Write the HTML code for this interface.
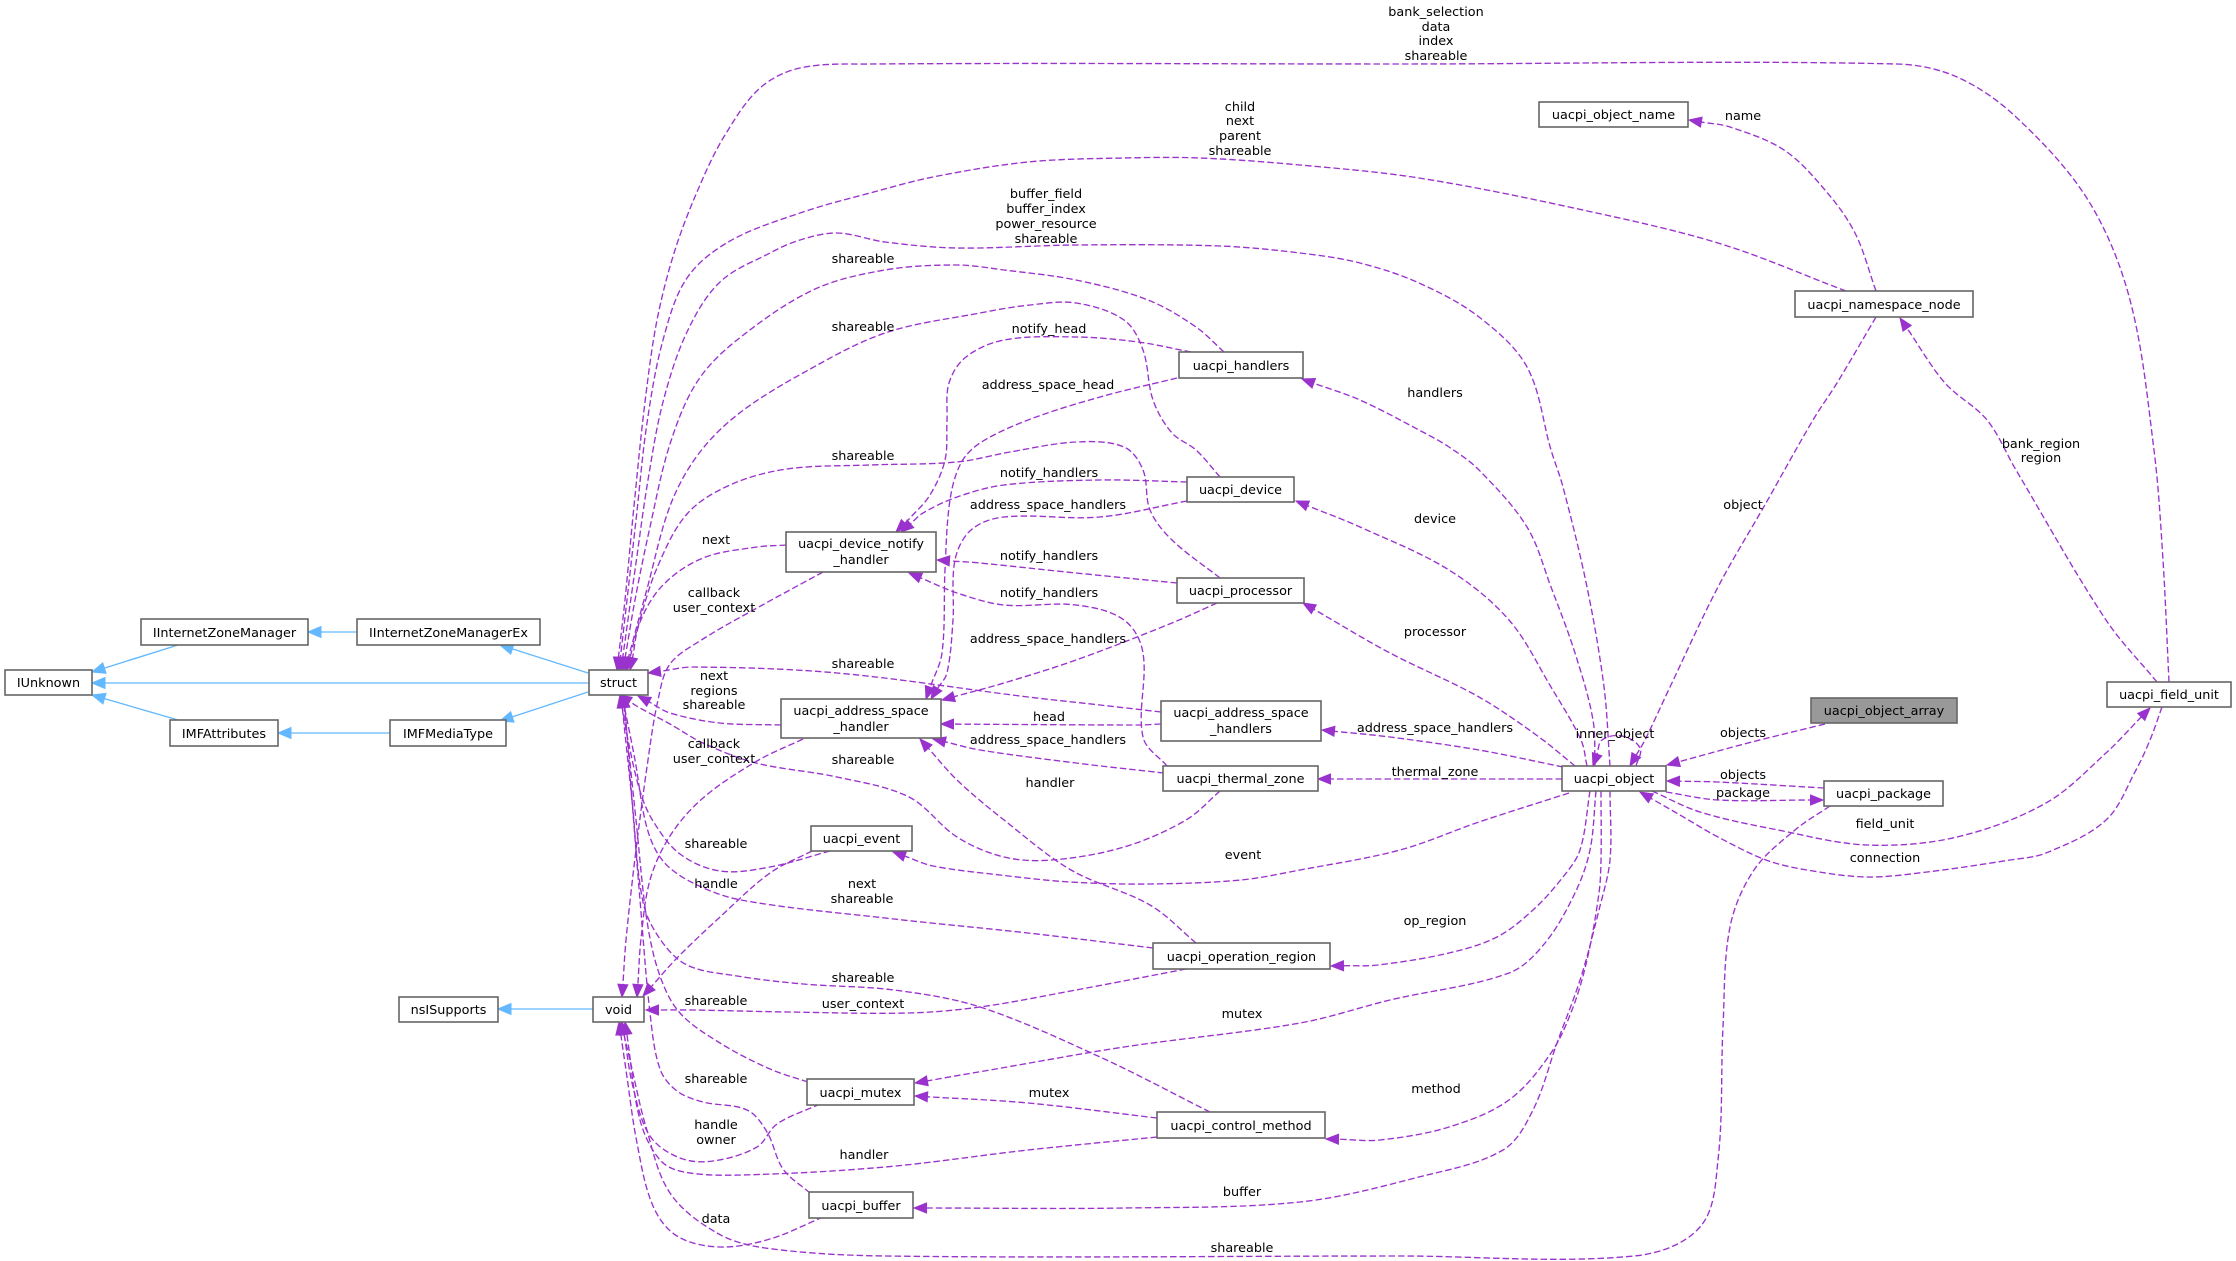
<!DOCTYPE html>
<html><head><meta charset="utf-8"><style>
html,body{margin:0;padding:0;background:#fff;}
svg{display:block;}
text{font-family:"DejaVu Sans","Liberation Sans",sans-serif;font-size:12.8px;fill:#000;}
.n rect{fill:#fff;stroke:#666;stroke-width:1.6;}
.n text{text-anchor:middle;}
.l text{text-anchor:middle;}
</style></head><body>
<svg id="g" width="2236" height="1261" viewBox="0 0 2236 1261" xmlns="http://www.w3.org/2000/svg">
<rect width="2236" height="1261" fill="#fff"/>
<g id="edges"></g>
<g class="n">
<rect x="5" y="670" width="87" height="25"/><text x="48.5" y="687">IUnknown</text>
<rect x="141" y="619" width="167" height="26"/><text x="224.5" y="637">IInternetZoneManager</text>
<rect x="357" y="619" width="183" height="26"/><text x="448.5" y="637">IInternetZoneManagerEx</text>
<rect x="170" y="720" width="108" height="26"/><text x="224" y="738">IMFAttributes</text>
<rect x="390" y="720" width="116" height="26"/><text x="448" y="738">IMFMediaType</text>
<rect x="589" y="670" width="59" height="25"/><text x="618.5" y="687">struct</text>
<rect x="593" y="997" width="51" height="25"/><text x="618.5" y="1014">void</text>
<rect x="399" y="997" width="99" height="25"/><text x="448.5" y="1014">nsISupports</text>
<rect x="786" y="532" width="150" height="40"/><text x="861" y="548">uacpi_device_notify</text><text x="861" y="564">_handler</text>
<rect x="781" y="699" width="160" height="39"/><text x="861" y="715">uacpi_address_space</text><text x="861" y="731">_handler</text>
<rect x="811" y="826" width="101" height="25"/><text x="861.5" y="843">uacpi_event</text>
<rect x="807" y="1079" width="107" height="26"/><text x="860.5" y="1097">uacpi_mutex</text>
<rect x="809" y="1192" width="104" height="26"/><text x="861" y="1210">uacpi_buffer</text>
<rect x="1179" y="352" width="124" height="26"/><text x="1241" y="370">uacpi_handlers</text>
<rect x="1187" y="477" width="107" height="25"/><text x="1240.5" y="494">uacpi_device</text>
<rect x="1177" y="578" width="127" height="25"/><text x="1240.5" y="595">uacpi_processor</text>
<rect x="1161" y="701" width="160" height="40"/><text x="1241" y="717">uacpi_address_space</text><text x="1241" y="733">_handlers</text>
<rect x="1163" y="766" width="155" height="25"/><text x="1240.5" y="783">uacpi_thermal_zone</text>
<rect x="1153" y="943" width="177" height="26"/><text x="1241.5" y="961">uacpi_operation_region</text>
<rect x="1157" y="1112" width="168" height="26"/><text x="1241" y="1130">uacpi_control_method</text>
<rect x="1562" y="766" width="104" height="25"/><text x="1614" y="783">uacpi_object</text>
<rect x="1811" y="698" width="146" height="25" style="fill:#999"/><text x="1884" y="715">uacpi_object_array</text>
<rect x="1824" y="781" width="119" height="25"/><text x="1883.5" y="798">uacpi_package</text>
<rect x="1795" y="291" width="178" height="26"/><text x="1884" y="309">uacpi_namespace_node</text>
<rect x="1539" y="102" width="149" height="25"/><text x="1613.5" y="119">uacpi_object_name</text>
<rect x="2107" y="682" width="124" height="25"/><text x="2169" y="699">uacpi_field_unit</text>
</g>
<g class="l">
<text x="1436" y="16">bank_selection</text><text x="1436" y="31">data</text><text x="1436" y="45">index</text><text x="1436" y="60">shareable</text>
<text x="1240" y="111">child</text><text x="1240" y="125">next</text><text x="1240" y="140">parent</text><text x="1240" y="155">shareable</text>
<text x="1046" y="198">buffer_field</text><text x="1046" y="213">buffer_index</text><text x="1046" y="228">power_resource</text><text x="1046" y="243">shareable</text>
<text x="863" y="263">shareable</text>
<text x="863" y="331">shareable</text>
<text x="1049" y="333">notify_head</text>
<text x="1048" y="389">address_space_head</text>
<text x="1435" y="397">handlers</text>
<text x="1743" y="120">name</text>
<text x="1049" y="477">notify_handlers</text>
<text x="863" y="460">shareable</text>
<text x="1048" y="509">address_space_handlers</text>
<text x="1743" y="509">object</text>
<text x="1435" y="523">device</text>
<text x="716" y="544">next</text>
<text x="1049" y="560">notify_handlers</text>
<text x="714" y="597">callback</text><text x="714" y="612">user_context</text>
<text x="1049" y="597">notify_handlers</text>
<text x="1435" y="636">processor</text>
<text x="1048" y="643">address_space_handlers</text>
<text x="863" y="668">shareable</text>
<text x="714" y="680">next</text><text x="714" y="695">regions</text><text x="714" y="709">shareable</text>
<text x="1049" y="721">head</text>
<text x="1435" y="732">address_space_handlers</text>
<text x="1615" y="738">inner_object</text>
<text x="1743" y="737">objects</text>
<text x="1048" y="744">address_space_handlers</text>
<text x="714" y="748">callback</text><text x="714" y="763">user_context</text>
<text x="863" y="764">shareable</text>
<text x="1435" y="776">thermal_zone</text>
<text x="1743" y="779">objects</text>
<text x="1050" y="787">handler</text>
<text x="1743" y="797">package</text>
<text x="1885" y="828">field_unit</text>
<text x="716" y="848">shareable</text>
<text x="1243" y="859">event</text>
<text x="1885" y="862">connection</text>
<text x="716" y="888">handle</text>
<text x="862" y="888">next</text><text x="862" y="903">shareable</text>
<text x="1435" y="925">op_region</text>
<text x="863" y="982">shareable</text>
<text x="716" y="1005">shareable</text>
<text x="863" y="1008">user_context</text>
<text x="1242" y="1018">mutex</text>
<text x="716" y="1083">shareable</text>
<text x="1049" y="1097">mutex</text>
<text x="1436" y="1093">method</text>
<text x="716" y="1129">handle</text><text x="716" y="1144">owner</text>
<text x="864" y="1159">handler</text>
<text x="1242" y="1196">buffer</text>
<text x="716" y="1223">data</text>
<text x="1242" y="1252">shareable</text>
<text x="2041" y="448">bank_region</text><text x="2041" y="462">region</text>
</g>
</svg>
<script>
(function(){
var NS="http://www.w3.org/2000/svg";
var G=document.getElementById("edges");
function dist(a,b){var x=b[0]-a[0],y=b[1]-a[1];return Math.sqrt(x*x+y*y);}
function smooth(p){
  var d="M"+p[0][0].toFixed(1)+","+p[0][1].toFixed(1);
  for(var i=0;i<p.length-1;i++){
    var p0=p[i-1]||p[i],p1=p[i],p2=p[i+1],p3=p[i+2]||p2;
    var seg=dist(p1,p2)/3;
    var t1x=p2[0]-p0[0],t1y=p2[1]-p0[1],n1=Math.sqrt(t1x*t1x+t1y*t1y)||1;
    var t2x=p3[0]-p1[0],t2y=p3[1]-p1[1],n2=Math.sqrt(t2x*t2x+t2y*t2y)||1;
    var c1x=p1[0]+t1x/n1*seg,c1y=p1[1]+t1y/n1*seg;
    var c2x=p2[0]-t2x/n2*seg,c2y=p2[1]-t2y/n2*seg;
    d+="C"+c1x.toFixed(1)+","+c1y.toFixed(1)+" "+c2x.toFixed(1)+","+c2y.toFixed(1)+" "+p2[0].toFixed(1)+","+p2[1].toFixed(1);
  }
  return d;
}
function edge(pts,blue){
  var col=blue?"#63b8ff":"#9a32cd";
  var n=pts.length,tip=pts[n-1],prev=pts[n-2];
  var dx=tip[0]-prev[0],dy=tip[1]-prev[1],L=Math.sqrt(dx*dx+dy*dy);dx/=L;dy/=L;
  var al=blue?13:12.5,aw=blue?5.5:5;
  var base=[tip[0]-dx*al,tip[1]-dy*al];
  var p=pts.slice(0,n-1).concat([base]);
  var path=document.createElementNS(NS,"path");
  path.setAttribute("d",smooth(p));
  path.setAttribute("fill","none");
  path.setAttribute("stroke",col);
  path.setAttribute("stroke-width","1.35");
  if(!blue)path.setAttribute("stroke-dasharray","6.5,3");
  G.appendChild(path);
  var px=-dy,py=dx;
  var poly=document.createElementNS(NS,"polygon");
  poly.setAttribute("points",tip[0]+","+tip[1]+" "+(base[0]+px*aw)+","+(base[1]+py*aw)+" "+(base[0]-px*aw)+","+(base[1]-py*aw));
  poly.setAttribute("fill",col);poly.setAttribute("stroke",col);poly.setAttribute("stroke-width","1");
  G.appendChild(poly);
}
var B=[
 [[589,683],[92,683]],
 [[588,673],[500,645]],
 [[588,692],[500,721]],
 [[357,632],[308,632]],
 [[178,645],[92,672]],
 [[390,733],[278,733]],
 [[178,720],[92,695]],
 [[593,1009],[498,1009]]
];
B.forEach(function(e){edge(e,true);});
var E=[
 [[2169,682],[2163,560],[2154,450],[2130,300],[2088,200],[2016,117],[1957,77],[1897,64],[1400,64],[870,64],[800,68],[760,88],[725,135],[700,185],[675,250],[657,320],[645,402],[634,506],[625,600],[617,670]],
 [[1846,291],[1718,243],[1569,207],[1419,178],[1300,165],[1200,158],[1124,158],[1028,162],[933,177],[870,193],[803,212],[730,241],[687,278],[663,340],[647,423],[636,520],[627,600],[619,670]],
 [[1610,766],[1604,687],[1587,587],[1563,487],[1551,450],[1527,367],[1479,317],[1419,283],[1360,263],[1300,253],[1220,246],[1076,245],[957,248],[885,242],[837,233],[800,240],[770,253],[720,282],[687,332],[663,402],[648,480],[635,570],[621,670]],
 [[1224,352],[1196,327],[1148,300],[1076,280],[1004,270],[957,265],[885,270],[813,290],[737,340],[697,382],[670,444],[650,527],[635,600],[623,670]],
 [[1220,477],[1196,450],[1172,433],[1153,400],[1143,350],[1124,320],[1076,303],[1030,305],[980,313],[885,333],[803,373],[737,415],[697,456],[670,506],[647,589],[625,670]],
 [[1220,578],[1172,540],[1150,510],[1143,470],[1124,447],[1076,442],[1010,452],[957,462],[870,465],[787,469],[730,485],[687,514],[657,568],[637,630],[627,670]],
 [[786,545],[757,547],[703,558],[663,585],[640,622],[630,670]],
 [[823,572],[757,608],[703,639],[670,664],[658,700],[648,760],[636,850],[626,940],[622,997]],
 [[781,725],[720,723],[670,713],[638,696]],
 [[803,739],[757,761],[703,798],[670,836],[650,880],[641,939],[637,997]],
 [[1161,712],[1100,705],[1028,697],[837,673],[693,667],[648,673]],
 [[1220,791],[1186,820],[1124,847],[1052,860],[1004,857],[957,837],[909,797],[837,777],[756,763],[703,743],[670,724],[640,708],[619,695]],
 [[830,851],[770,867],[720,871],[680,854],[653,821],[640,791],[628,740],[620,695]],
 [[812,851],[770,873],[720,917],[677,958],[643,996]],
 [[1153,948],[1028,933],[885,918],[741,900],[693,883],[663,861],[647,828],[635,760],[622,695]],
 [[1210,1112],[1100,1057],[980,1007],[894,990],[803,984],[737,976],[687,965],[660,939],[643,902],[632,800],[621,695]],
 [[808,1082],[770,1069],[720,1043],[680,1013],[660,976],[647,921],[636,820],[623,695]],
 [[810,1193],[783,1169],[767,1132],[747,1110],[703,1102],[677,1091],[660,1069],[650,1013],[640,900],[632,800],[624,695]],
 [[820,1104],[777,1124],[757,1147],[713,1161],[680,1158],[650,1136],[633,1087],[622,1022]],
 [[1157,1137],[1028,1150],[885,1167],[741,1175],[684,1172],[660,1160],[640,1120],[625,1022]],
 [[823,1217],[770,1239],[720,1247],[677,1236],[653,1206],[637,1143],[626,1070],[619,1022]],
 [[1830,806],[1795,830],[1754,870],[1730,927],[1723,1027],[1718,1160],[1700,1227],[1634,1256],[1400,1256],[885,1256],[765,1248],[717,1233],[670,1193],[646,1127],[630,1060],[621,1022]],
 [[1186,969],[1076,990],[980,1007],[909,1013],[789,1012],[693,1010],[646,1010]],
 [[1595,766],[1593,720],[1575,653],[1551,587],[1527,527],[1479,470],[1449,447],[1419,430],[1360,400],[1302,379]],
 [[1587,766],[1581,740],[1551,687],[1509,620],[1449,570],[1360,527],[1296,501]],
 [[1575,766],[1539,737],[1479,697],[1390,653],[1303,603]],
 [[1563,767],[1479,750],[1390,737],[1322,730]],
 [[1562,779],[1318,779]],
 [[1569,793],[1479,822],[1400,850],[1300,870],[1241,880],[1150,884],[1070,882],[1000,875],[933,866],[893,852]],
 [[1590,791],[1580,850],[1563,877],[1533,910],[1497,937],[1449,953],[1378,965],[1331,966]],
 [[1596,791],[1590,850],[1575,893],[1545,943],[1509,973],[1390,1000],[1300,1023],[1124,1047],[990,1070],[915,1083]],
 [[1601,791],[1601,860],[1599,893],[1587,960],[1572,1010],[1551,1053],[1509,1100],[1449,1127],[1380,1140],[1326,1139]],
 [[1610,791],[1610,860],[1599,910],[1581,977],[1557,1043],[1533,1110],[1503,1150],[1419,1177],[1300,1202],[1124,1208],[914,1208]],
 [[1876,317],[1837,383],[1813,420],[1766,503],[1718,587],[1670,687],[1645,740],[1630,766]],
 [[1876,291],[1855,233],[1825,190],[1784,150],[1730,127],[1689,120]],
 [[2157,682],[2106,620],[2016,470],[1987,420],[1945,383],[1900,318]],
 [[1825,724],[1748,743],[1667,765]],
 [[1824,788],[1718,782],[1667,781]],
 [[1666,792],[1718,800],[1823,800]],
 [[1652,791],[1700,812],[1778,830],[1867,845],[1957,837],[2046,803],[2106,753],[2150,708]],
 [[2162,707],[2150,740],[2136,770],[2106,820],[2046,853],[2010,860],[1927,872],[1867,877],[1807,870],[1766,860],[1718,837],[1680,815],[1640,792]],
 [[1636,766],[1640,748],[1622,736],[1602,740],[1593,766]],
 [[1191,352],[1138,342],[1076,337],[1004,340],[966,357],[949,383],[947,420],[945,460],[930,495],[910,518],[896,532]],
 [[1187,482],[1100,480],[1004,485],[957,497],[923,513],[901,532]],
 [[1187,501],[1100,517],[1004,517],[971,530],[955,560],[953,620],[947,673],[931,699]],
 [[1177,583],[1076,573],[980,563],[937,560]],
 [[1167,766],[1143,737],[1143,653],[1124,620],[1076,605],[1004,605],[957,593],[909,573]],
 [[1217,603],[1172,623],[1076,660],[1004,683],[942,700]],
 [[1161,724],[1138,725],[941,724]],
 [[1164,773],[1076,763],[980,750],[933,739]],
 [[1196,943],[1150,905],[1071,870],[1004,820],[957,780],[920,739]],
 [[1177,378],[1100,397],[1028,420],[980,443],[961,463],[950,500],[945,570],[942,653],[926,699]],
 [[1157,1118],[1028,1103],[915,1096]]
];
E.forEach(function(e){edge(e,false);});
})();
</script>
</body></html>
